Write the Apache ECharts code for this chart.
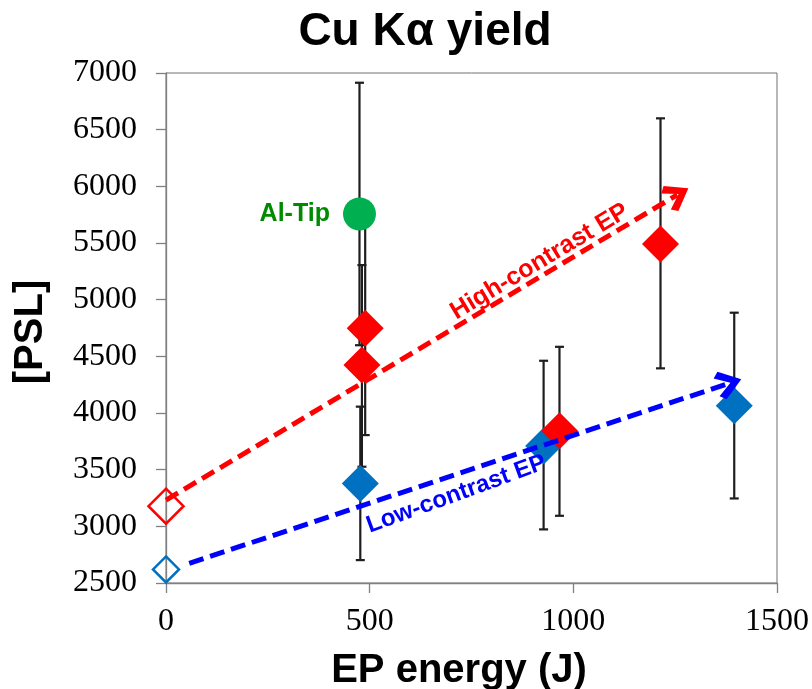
<!DOCTYPE html>
<html><head><meta charset="utf-8">
<script src="https://cdn.jsdelivr.net/npm/echarts@6/dist/echarts.min.js"></script>
<style>html,body{margin:0;padding:0;background:#fff}#c{width:812px;height:689px}</style>
</head><body><div id="c"></div>
<script>
// ---- data ----
const xTicks = [0, 500, 1000, 1500];
const yTicks = [2500, 3000, 3500, 4000, 4500, 5000, 5500, 6000, 6500, 7000];
const highContrast = [[481, 4423], [489, 4747], [966, 3843], [1214, 5491]];
const highErr = [[481, 3526, 5305], [489, 3805, 5689], [966, 3093, 4584], [1214, 4394, 6600]];
const lowContrast = [[477, 3379], [927, 3708], [1395, 4064]];
const lowErr = [[477, 2702, 4056], [927, 2973, 4461], [1395, 3246, 4885]];
const alTip = [[475, 5756]];
const alTipErr = [[475, 4598, 6914]];
const highRef = [[0, 3178]];
const lowRef = [[0, 2620]];
const highTrend = [[0, 3231], [1255, 5925]];
const lowTrend = [[57, 2673], [1382, 4262]];
const highLabel = [[917, 5335]];
const lowLabel = [[713, 3283]];

const chevron = 'path://M50 0 L100 78 L82 100 L50 44 L18 100 L0 78 Z';

function errRender(params, api) {
  const x = api.value(0), lo = api.value(1), hi = api.value(2);
  const a = api.coord([x, lo]), b = api.coord([x, hi]);
  const w = 4.5;
  const st = { stroke: '#1e1e1e', lineWidth: 2.2 };
  return { type: 'group', children: [
    { type: 'line', shape: { x1: a[0], y1: a[1], x2: b[0], y2: b[1] }, style: st },
    { type: 'line', shape: { x1: a[0] - w, y1: a[1], x2: a[0] + w, y2: a[1] }, style: st },
    { type: 'line', shape: { x1: b[0] - w, y1: b[1], x2: b[0] + w, y2: b[1] }, style: st }
  ]};
}

const allErr = highErr.concat(lowErr).concat(alTipErr);

const chart = echarts.init(document.getElementById('c'), null, { renderer: 'canvas' });
const sans = '"Liberation Sans", Arial, sans-serif';
const serif = '"Liberation Serif", "Times New Roman", serif';
const plain = v => String(v);

chart.setOption({
  animation: false,
  backgroundColor: '#fff',
  grid: { left: 166, right: 35, top: 73, bottom: 106, containLabel: false, outerBoundsMode: 'none',
          show: true, borderColor: '#707070', borderWidth: 1 },
  xAxis: {
    type: 'value', min: xTicks[0], max: xTicks[xTicks.length - 1], interval: 500,
    axisLine: { show: true, lineStyle: { color: '#808080', width: 1.3 } },
    axisTick: { show: true, inside: false, length: 10, lineStyle: { color: '#808080', width: 1.3 } },
    axisLabel: { color: '#000', fontFamily: serif, fontSize: 32, margin: 23, formatter: plain },
    splitLine: { show: false }
  },
  yAxis: {
    type: 'value', min: yTicks[0], max: yTicks[yTicks.length - 1], interval: 500,
    axisLine: { show: true, lineStyle: { color: '#808080', width: 1.3 } },
    axisTick: { show: true, inside: false, length: 10, lineStyle: { color: '#808080', width: 1.3 } },
    axisLabel: { color: '#000', fontFamily: serif, fontSize: 32, margin: 29, formatter: plain },
    splitLine: { show: false }
  },
  graphic: [
    { type: 'text', x: 425, y: 32, style: { text: 'Cu Kα yield', font: 'bold 46px ' + sans, fill: '#000', textAlign: 'center', textVerticalAlign: 'middle' } },
    { type: 'text', x: 459, y: 671, style: { text: 'EP energy (J)', font: 'bold 40px ' + sans, fill: '#000', textAlign: 'center', textVerticalAlign: 'middle' } },
    { type: 'text', x: 31, y: 332, rotation: Math.PI / 2, style: { text: '[PSL]', font: 'bold 40px ' + sans, fill: '#000', textAlign: 'center', textVerticalAlign: 'middle' } }
  ],
  series: [
    { type: 'custom', renderItem: errRender, data: allErr, encode: { x: 0, y: [1, 2] }, z: 1, silent: true },
    { type: 'scatter', data: highRef, symbol: 'diamond', symbolSize: 35, z: 2,
      itemStyle: { color: 'rgba(255,255,255,0)', borderColor: '#ff0000', borderWidth: 2.5, opacity: 1 } },
    { type: 'scatter', data: lowRef, symbol: 'diamond', symbolSize: 26, z: 2,
      itemStyle: { color: 'rgba(255,255,255,0)', borderColor: '#0070c0', borderWidth: 2.5, opacity: 1 } },
    { type: 'scatter', data: lowContrast, symbol: 'diamond', symbolSize: 37, z: 2,
      itemStyle: { color: '#0070c0', opacity: 1 } },
    { type: 'scatter', data: highContrast, symbol: 'diamond', symbolSize: 37, z: 2,
      itemStyle: { color: '#ff0000', opacity: 1 } },
    { type: 'scatter', data: alTip, symbol: 'circle', symbolSize: 33, z: 3,
      itemStyle: { color: '#00b050', opacity: 1 },
      label: { show: true, position: 'left', distance: 13, formatter: 'Al-Tip',
               color: '#008a00', fontFamily: sans, fontWeight: 'bold', fontSize: 25 } },
    { type: 'scatter', data: [], z: 4, silent: true,
      markLine: {
        silent: true, animation: false, symbol: ['none', chevron], symbolSize: [29, 26],
        label: { show: false },
        data: [
          [{ coord: highTrend[0], lineStyle: { color: '#ff0000', width: 5, type: [14, 7], opacity: 1 }, itemStyle: { color: '#ff0000', opacity: 1 } },
           { coord: highTrend[1] }],
          [{ coord: lowTrend[0], lineStyle: { color: '#0000ff', width: 5, type: [15, 7], opacity: 1 }, itemStyle: { color: '#0000ff', opacity: 1 } },
           { coord: lowTrend[1] }]
        ]
      } },
    { type: 'scatter', data: highLabel, symbolSize: 0, z: 5, silent: true,
      itemStyle: { opacity: 1 },
      label: { show: true, position: 'inside', rotate: 31, formatter: 'High-contrast EP', opacity: 1,
               textBorderWidth: 0, textShadowBlur: 0,
               color: '#ff0000', fontFamily: sans, fontWeight: 'bold', fontSize: 25 } },
    { type: 'scatter', data: lowLabel, symbolSize: 0, z: 5, silent: true,
      itemStyle: { opacity: 1 },
      label: { show: true, position: 'inside', rotate: 20, formatter: 'Low-contrast EP', opacity: 1,
               textBorderWidth: 0, textShadowBlur: 0,
               color: '#0000ff', fontFamily: sans, fontWeight: 'bold', fontSize: 24 } }
  ]
});
</script>
</body></html>
